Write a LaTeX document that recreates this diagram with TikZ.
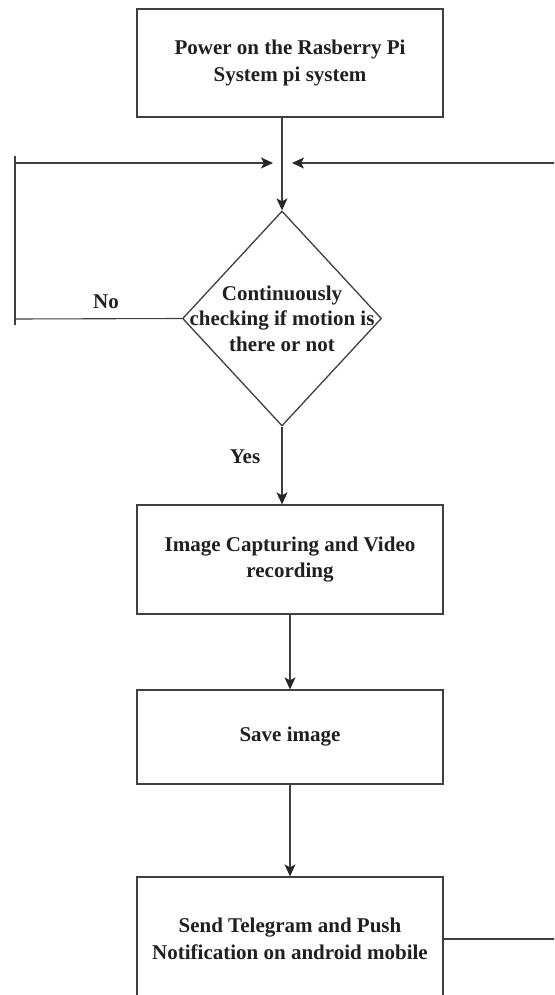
\documentclass[tikz,border=0pt]{standalone}
\usepackage{fontspec}
\setmainfont{Liberation Serif}
\usetikzlibrary{shapes.geometric,arrows.meta}
\definecolor{linec}{HTML}{404040}
\definecolor{textc}{HTML}{202020}
\definecolor{tipc}{HTML}{262626}
\newcommand\zl[1]{\hbox to 0pt{\hss #1\hss}}
\begin{document}
\begin{tikzpicture}[x=1pt,y=-1pt,
  stepbox/.style={draw=linec, line width=1.3pt, minimum width=306pt, inner sep=0pt, align=center, text=textc, font=\bfseries\fontsize{21}{26.5}\selectfont},
  decision/.style={diamond, draw=linec, line width=1.3pt, minimum width=199pt, minimum height=215pt, inner sep=0pt, align=center, text=textc, font=\bfseries\fontsize{21}{25.5}\selectfont},
  conn/.style={draw=linec, line width=1.1pt},
  tip/.style={arrows={-Stealth[length=12pt,width=11pt,inset=3pt,color=tipc]}},
  lbl/.style={text=textc, font=\bfseries\fontsize{21}{26}\selectfont, inner sep=0pt}]
\useasboundingbox (0,0) rectangle (554,995);
\fill[white] (0,0) rectangle (554,995);
\clip (0,0) rectangle (554,995);
% nodes
\node[stepbox, minimum height=108pt] (top) at (290,63) {Power on the Rasberry Pi\\System pi system};
\node[decision] (dia) at (282,318.5) {\zl{Continuously}\\\zl{checking if motion is}\\\zl{there or not}};
\node[stepbox, minimum height=109pt] (img) at (290,559.5) {Image Capturing and Video\\recording};
\node[stepbox, minimum height=94pt] (save) at (290,737) {Save image};
\node[stepbox, minimum height=124pt] (send) at (290,939) {Send Telegram and Push\\Notification on android mobile};
% labels
\node[lbl] (no) at (106,302) {No};
\node[lbl] (yes) at (245,457) {Yes};
% free-end coordinates
\coordinate (nl) at (15,319);
\coordinate (nlt) at (15,163);
\coordinate (nltop) at (15,156);
\coordinate (nlbot) at (15,325);
\coordinate (ltip) at (273,163);
\coordinate (rstart) at (556,163);
\coordinate (rtip) at (292,163);
\coordinate (sendend) at (556,939);
% connectors
\draw[conn, tip] (dia.north |- top.south) -- (dia.north);
\draw[conn] (dia.west) -- (nl);
\draw[conn] (nltop) -- (nlbot);
\draw[conn, tip] (nlt) -- (ltip);
\draw[conn, tip] (rstart) -- (rtip);
\draw[conn, tip] (dia.south) -- (dia.south |- img.north);
\draw[conn, tip] (img.south) -- (save.north);
\draw[conn, tip] (save.south) -- (send.north);
\draw[conn] (send.east) -- (sendend);
\end{tikzpicture}
\end{document}
